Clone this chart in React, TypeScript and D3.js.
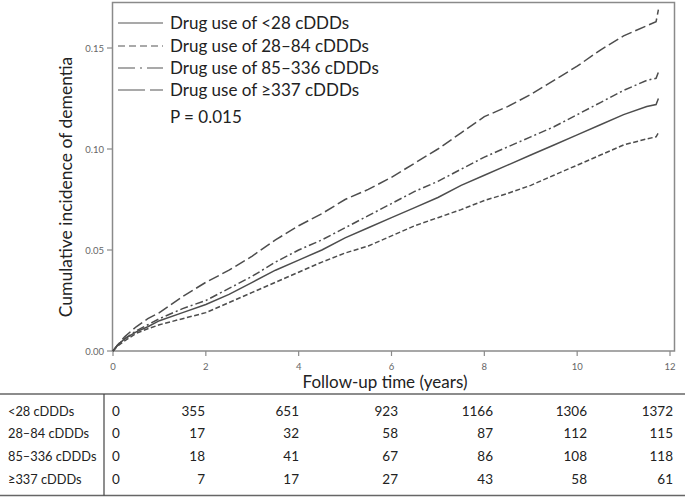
import React from "react";
import * as d3 from "d3";

const times = [0, 0.1, 0.25, 0.5, 0.75, 1, 1.5, 2, 2.5, 3, 3.5, 4, 4.5, 5, 5.5, 6, 6.5, 7, 7.5, 8, 8.5, 9, 9.5, 10, 10.5, 11, 11.5, 11.7, 11.75];

const lt28 = [0, 0.003, 0.006, 0.0095, 0.012, 0.015, 0.019, 0.023, 0.028, 0.034, 0.040, 0.045, 0.050, 0.056, 0.061, 0.066, 0.071, 0.076, 0.082, 0.087, 0.092, 0.097, 0.102, 0.107, 0.112, 0.117, 0.121, 0.122, 0.125];
const r28to84 = [0, 0.0025, 0.005, 0.0088, 0.011, 0.013, 0.016, 0.019, 0.024, 0.029, 0.034, 0.039, 0.044, 0.0485, 0.052, 0.057, 0.062, 0.066, 0.070, 0.0745, 0.078, 0.082, 0.087, 0.092, 0.097, 0.102, 0.105, 0.106, 0.108];
const r85to336 = [0, 0.003, 0.006, 0.010, 0.013, 0.016, 0.021, 0.025, 0.031, 0.037, 0.044, 0.050, 0.055, 0.061, 0.067, 0.073, 0.079, 0.084, 0.090, 0.096, 0.101, 0.106, 0.111, 0.117, 0.123, 0.129, 0.134, 0.135, 0.138];
const ge337 = [0, 0.003, 0.007, 0.012, 0.016, 0.019, 0.027, 0.034, 0.040, 0.047, 0.055, 0.062, 0.068, 0.075, 0.080, 0.086, 0.093, 0.100, 0.108, 0.116, 0.121, 0.127, 0.134, 0.141, 0.149, 0.156, 0.161, 0.163, 0.169];

const legendLabels = ["Drug use of <28 cDDDs", "Drug use of 28–84 cDDDs", "Drug use of 85–336 cDDDs", "Drug use of ≥337 cDDDs"];
const pText = "P = 0.015";

const yTicks = [0, 0.05, 0.1, 0.15];
const xTicks = [0, 2, 4, 6, 8, 10, 12];

const tableLabels = ["<28 cDDDs", "28–84 cDDDs", "85–336 cDDDs", "≥337 cDDDs"];
const countsLt28 = [0, 355, 651, 923, 1166, 1306, 1372];
const counts28to84 = [0, 17, 32, 58, 87, 112, 115];
const counts85to336 = [0, 18, 41, 67, 86, 108, 118];
const countsGe337 = [0, 7, 17, 27, 43, 58, 61];

const FONT = "Lato, 'Open Sans', sans-serif";
const dashes = ["none", "5,2.5", "8,3,2,3", "11,4"];
const legendDashes = ["none", "7,4", "17,5,2,5", "27,5"];

export default function App() {
  const W = 685, H = 498;
  const x = d3.scaleLinear().domain([0, 12]).range([113, 670]);
  const y = d3.scaleLinear().domain([0, 0.15]).range([351, 48]);
  const series = [lt28, r28to84, r85to336, ge337];
  const line = d3.line<number>().x((_, i) => x(times[i])).y((d) => y(d)).curve(d3.curveLinear);
  const counts = [countsLt28, counts28to84, counts85to336, countsGe337];
  const colRight = [119, 205, 299, 398, 493, 587, 673];
  const rowBase = [415.5, 438, 460.5, 483.5];
  const legendY = [23, 46, 68, 90];

  return (
    <svg width={W} height={H} style={{ position: "absolute", left: 0, top: 0, background: "#fff" }} fontFamily={FONT}>
      <rect x={0} y={0} width={W} height={H} fill="#fff" />
      <rect x={112.5} y={2.5} width={562} height={348.5} fill="none" stroke="#8a8a8a" strokeWidth={1.5} />
      {yTicks.map((t) => (
        <g key={"y" + t}>
          <line x1={107} x2={112} y1={y(t)} y2={y(t)} stroke="#8a8a8a" strokeWidth={1.2} />
          <text x={104} y={y(t) + 3.5} fontSize={9.5} fill="#666" textAnchor="end">{d3.format(".2f")(t)}</text>
        </g>
      ))}
      {xTicks.map((t) => (
        <g key={"x" + t}>
          <line x1={x(t)} x2={x(t)} y1={351} y2={356} stroke="#8a8a8a" strokeWidth={1.2} />
          <text x={x(t)} y={370} fontSize={9.5} fill="#666" textAnchor="middle">{t}</text>
        </g>
      ))}
      <text transform="translate(72,187) rotate(-90)" fontSize={17.5} fill="#222" textAnchor="middle">Cumulative incidence of dementia</text>
      <text x={385} y={388} fontSize={17} fill="#222" textAnchor="middle">Follow-up time (years)</text>
      {series.map((s, i) => (
        <path key={"s" + i} d={line(s) || ""} fill="none" stroke="#4d4d4d" strokeWidth={1.5} strokeDasharray={dashes[i]} />
      ))}
      {legendLabels.map((l, i) => (
        <g key={"l" + i}>
          <line x1={118} x2={163} y1={legendY[i]} y2={legendY[i]} stroke="#555" strokeWidth={1.2} strokeDasharray={legendDashes[i]} />
          <text x={170} y={legendY[i] + 6} fontSize={17} fill="#222">{l}</text>
        </g>
      ))}
      <text x={170} y={123} fontSize={17} fill="#222">{pText}</text>
      <line x1={0} x2={W} y1={394} y2={394} stroke="#666" strokeWidth={1.3} />
      <line x1={0} x2={W} y1={495.5} y2={495.5} stroke="#666" strokeWidth={1.3} />
      <line x1={104} x2={104} y1={394} y2={495.5} stroke="#444" strokeWidth={1.2} />
      {tableLabels.map((lab, r) => (
        <g key={"r" + r}>
          <text x={8} y={rowBase[r]} fontSize={12.8} fill="#222">{lab}</text>
          {counts[r].map((c, j) => (
            <text key={j} x={j === 0 ? 112 : colRight[j]} y={rowBase[r]} fontSize={13.5} fill="#222" textAnchor={j === 0 ? "start" : "end"}>{c}</text>
          ))}
        </g>
      ))}
    </svg>
  );
}
